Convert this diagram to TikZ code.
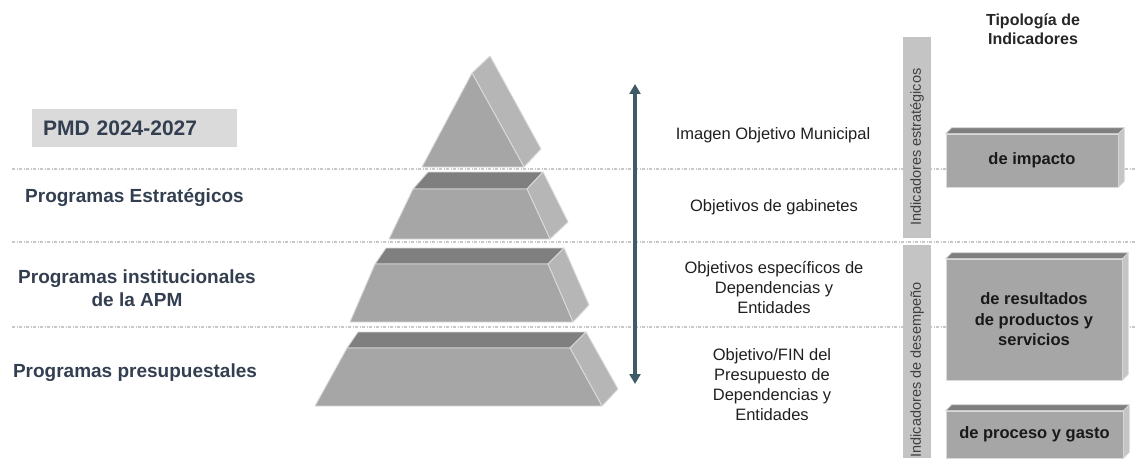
\documentclass[tikz,border=0pt]{standalone}
\usepackage{fontspec}
\setmainfont{Liberation Sans}
\usepackage{xcolor}
\usetikzlibrary{arrows.meta, positioning}
\definecolor{pyrfront}{HTML}{A6A6A6}
\definecolor{pyrtop}{HTML}{7F7F7F}
\definecolor{pyrside}{HTML}{B6B6B6}
\definecolor{pyredge}{HTML}{DADADA}
\definecolor{labelblue}{HTML}{333F50}
\definecolor{arrowslate}{HTML}{3E5C66}
\definecolor{barfill}{HTML}{C4C4C4}
\definecolor{guidegray}{HTML}{C8C8C8}

\begin{document}
\begin{tikzpicture}[x=1pt, y=-1pt,
        facefront/.style={fill=pyrfront, draw=pyredge, line width=0.9pt, line join=round},
        facetop/.style={fill=pyrtop, draw=pyredge, line width=0.9pt, line join=round},
        faceside/.style={fill=pyrside, draw=pyredge, line width=0.9pt, line join=round},
        guideline/.style={draw=guidegray, line width=1.1pt, dash pattern=on 3pt off 1.5pt on 1pt off 1.5pt},
        level/.style={text=labelblue, font=\bfseries\fontsize{19}{23}\selectfont, align=center, inner sep=0pt},
        pmdbox/.style={fill=pyredge, text=labelblue, font=\bfseries\fontsize{21}{24}\selectfont, align=left, text width=183pt, inner xsep=11pt, minimum height=38pt},
        objtext/.style={text=black!88, font=\fontsize{16.5}{20}\selectfont, align=center, inner sep=0pt},
        updown/.style={arrows={Triangle[width=11pt,length=10pt]-Triangle[width=11pt,length=10pt]}, line width=3.5pt, draw=arrowslate},
        indbar/.style={fill=barfill, draw=none, inner sep=0pt, minimum width=28pt},
        bartext/.style={text=black!75, font=\fontsize{14.5}{17}\selectfont, inner sep=0pt},
        indbox/.style={fill=pyrfront, draw=pyredge, line width=0.6pt, text=black!90, font=\bfseries\fontsize{16.5}{20.5}\selectfont, align=center, inner sep=0pt},
        heading/.style={text=black!85, font=\bfseries\fontsize{16}{19}\selectfont, align=center, inner sep=0pt}
        ]
        \useasboundingbox (0,0) rectangle (1136,460);

        % dotted separators between the levels
        \foreach \gy in {169,242,327}
            \draw[guideline] (12,\gy) -- (1136,\gy);

        % pyramid, top to bottom
        \filldraw[faceside] (472,73) -- (490,56) -- (541,149) -- (524,167) -- cycle;
        \filldraw[facefront] (472,73) -- (524,167) -- (422,167) -- cycle;

        \filldraw[facetop] (413,189) -- (428,172) -- (543,172) -- (527,189) -- cycle;
        \filldraw[faceside] (527,189) -- (543,172) -- (568,222) -- (550,239) -- cycle;
        \filldraw[facefront] (413,189) -- (527,189) -- (550,239) -- (389,239) -- cycle;

        \filldraw[facetop] (375,264) -- (386,248) -- (564,248) -- (548,264) -- cycle;
        \filldraw[faceside] (548,264) -- (564,248) -- (589,305) -- (573,322) -- cycle;
        \filldraw[facefront] (375,264) -- (548,264) -- (573,322) -- (350,322) -- cycle;

        \filldraw[facetop] (347,348) -- (358,332) -- (586,332) -- (570,348) -- cycle;
        \filldraw[faceside] (570,348) -- (586,332) -- (618,389) -- (602,406) -- cycle;
        \filldraw[facefront] (347,348) -- (570,348) -- (602,406) -- (315,406) -- cycle;

        % left labels
        \node[pmdbox] (pmd) at (134.5,128) {PMD 2024-2027};
        \node[level] (estrategicos) at (134.5,198) {Programas Estratégicos};
        \node[level] (institucionales) at (137,288) {Programas institucionales\\de la APM};
        \node[level] (presupuestales) at (135,373) {Programas presupuestales};

        % arrow and objectives
        \coordinate (arrtop) at (635,84);
        \coordinate (arrbot) at (635,384);
        \draw[updown] (arrtop) -- (arrbot);

        \node[objtext] (imagen) at (773,135) {Imagen Objetivo Municipal};
        \node[objtext] (gabinetes) at (774,207) {Objetivos de gabinetes};
        \node[objtext] (especificos) at (774,288) {Objetivos específicos de\\Dependencias y\\Entidades};
        \node[objtext] (fin) at (772,385) {Objetivo/FIN del\\Presupuesto de\\Dependencias y\\Entidades};

        % indicator bars
        \node[indbar, minimum height=201pt] (barest) at (917,137.5) {};
        \node[bartext, rotate=90] at (917,147) {Indicadores estratégicos};
        \node[indbar, minimum height=213pt] (bardes) at (917,351.5) {};
        \node[bartext, rotate=90] at (917,370) {Indicadores de desempeño};

        \node[heading] (tipologia) at (1033,29.5) {Tipología de\\Indicadores};

        % indicator boxes
        \node[indbox, minimum width=172pt, minimum height=53pt] (impacto) at (1032,160.5) {de impacto};
        \node[indbox, minimum width=176pt, minimum height=121pt] (resultados) at (1034,319.5) {de resultados\\de productos y\\servicios};
        \node[indbox, minimum width=177pt, minimum height=47pt] (proceso) at (1034.5,434.5) {de proceso y gasto};
        \foreach \bx in {impacto,resultados,proceso} {
            \filldraw[facetop, line width=0.6pt] (\bx.north west) -- ++(6,-6) -- ([shift={(6,-6)}]\bx.north east) -- (\bx.north east) -- cycle;
            \filldraw[faceside, fill=pyrside!80!white, line width=0.6pt] (\bx.north east) -- ++(6,-6) -- ([shift={(6,-6)}]\bx.south east) -- (\bx.south east) -- cycle;
        }
    \end{tikzpicture}
\end{document}
